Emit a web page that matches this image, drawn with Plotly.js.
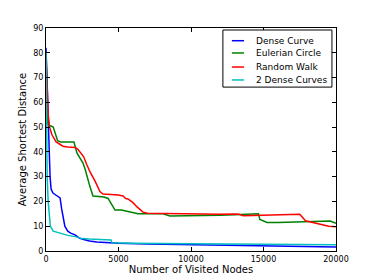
<!DOCTYPE html>
<html><head><meta charset="utf-8">
<script src="https://cdn.plot.ly/plotly-3.0.1.min.js"></script>
<style>body{margin:0;background:#fff}#c{width:374px;height:280px}</style>
</head><body><div id="c"></div>
<script>
const seriesNames = ["Dense Curve", "Eulerian Circle", "Random Walk", "2 Dense Curves"];
const seriesColors = ["#0000ff", "#008000", "#ff0000", "#00bfbf"];

const denseX = [0, 60, 120, 200, 280, 350, 480, 700, 970, 1080, 1200, 1300, 1500, 1700, 2000, 2300, 2600, 3000, 3500, 4000, 5000, 7000, 10000, 13000, 15000, 17000, 20000];
const denseY = [82, 70, 55, 40, 30, 25, 23.4, 22.5, 21.4, 17, 12, 10, 8, 7.2, 6.5, 5.2, 4.6, 4.0, 3.6, 3.4, 3.1, 2.8, 2.5, 2.2, 2.0, 1.6, 1.6];

const eulerX = [0, 50, 100, 180, 300, 500, 650, 800, 1000, 1500, 1930, 2140, 2400, 2550, 2700, 2830, 3030, 3240, 3500, 4000, 4280, 4500, 4760, 5200, 5650, 6000, 6350, 7000, 8070, 8550, 9720, 11000, 12000, 13000, 14000, 14650, 14750, 15240, 16000, 17000, 18000, 19000, 19600, 20000];
const eulerY = [80, 65, 52, 50.5, 50.5, 50, 47, 44.5, 44, 44, 44, 39.5, 37, 35.5, 33, 30, 26, 22.2, 22, 21.8, 21.2, 19, 16.5, 16.5, 16, 15.5, 15, 15, 15, 14.1, 14.1, 14.2, 14.4, 14.6, 14.9, 15, 12.7, 11.5, 11.5, 11.6, 11.8, 12.0, 12.1, 11.2];

const walkX = [0, 50, 100, 150, 250, 400, 700, 1000, 1170, 1500, 2000, 2200, 2400, 2600, 2800, 3030, 3400, 3720, 3930, 4500, 5000, 5310, 5500, 5650, 6000, 6280, 6690, 7000, 8000, 9700, 11000, 12000, 13000, 13300, 13600, 15000, 16000, 17000, 17500, 17900, 18400, 18900, 19500, 20000];
const walkY = [80, 70, 60, 55, 50, 47, 44, 43, 42.3, 42, 41.8, 41, 39.5, 38, 35, 32, 28, 24, 23, 22.8, 22.6, 22.2, 21.2, 21, 19.5, 17.8, 15.7, 15.2, 15.1, 14.9, 14.9, 14.8, 14.9, 14.8, 14.2, 14.4, 14.5, 14.6, 14.8, 12.2, 11.5, 10.6, 10.0, 9.8];

const twoX = [0, 40, 80, 150, 220, 300, 500, 1000, 1500, 2000, 2500, 3000, 3500, 4480, 4550, 6000, 10000, 15000, 20000];
const twoY = [80, 50, 30, 20, 13, 10, 8, 7, 6.3, 5.8, 5.0, 4.8, 4.6, 4.4, 3.3, 3.1, 2.9, 2.7, 2.5];

const xTicks = [0, 5000, 10000, 15000, 20000];
const yTicks = [0, 10, 20, 30, 40, 50, 60, 70, 80, 90];

const xs = [denseX, eulerX, walkX, twoX];
const ys = [denseY, eulerY, walkY, twoY];
const traces = seriesNames.map((n, i) => ({
  x: xs[i], y: ys[i], name: n, type: "scatter", mode: "lines",
  line: {color: seriesColors[i], width: 1.5}, showlegend: false
}));

// custom legend (matplotlib-like compact box)
const legBox = {x0: 0.610, x1: 0.986, y0: 0.735, y1: 0.991};
const legRows = [0.943, 0.888, 0.825, 0.767];
const shapes = [{type: "rect", xref: "paper", yref: "paper", x0: legBox.x0, x1: legBox.x1,
  y0: legBox.y0, y1: legBox.y1, line: {color: "#000", width: 1}, fillcolor: "#fff", layer: "above"}];
const annotations = [];
seriesNames.forEach((n, i) => {
  shapes.push({type: "line", xref: "paper", yref: "paper", x0: 0.641, x1: 0.683,
    y0: legRows[i], y1: legRows[i], line: {color: seriesColors[i], width: 1.5}, layer: "above"});
  annotations.push({xref: "paper", yref: "paper", x: 0.717, y: legRows[i], xanchor: "left",
    yanchor: "middle", text: n, showarrow: false,
    font: {family: "DejaVu Sans", size: 9, color: "#000"}});
});

const axisCommon = {
  showgrid: false, zeroline: false, showline: true, linecolor: "#000", linewidth: 1,
  mirror: "ticks", ticks: "inside", ticklen: 4, tickcolor: "#000",
  tickfont: {family: "DejaVu Sans", size: 8, color: "#000"}
};
const layout = {
  width: 374, height: 280,
  margin: {l: 46, r: 38, t: 28, b: 29},
  paper_bgcolor: "#fff", plot_bgcolor: "#fff",
  showlegend: false,
  shapes: shapes, annotations: annotations,
  xaxis: Object.assign({}, axisCommon, {range: [0, 20000], tickvals: xTicks,
    ticktext: xTicks.map(String),
    title: {text: "Number of Visited Nodes", font: {family: "DejaVu Sans", size: 10, color: "#000"}, standoff: 2}}),
  yaxis: Object.assign({}, axisCommon, {range: [0, 90], tickvals: yTicks,
    title: {text: "Average Shortest Distance", font: {family: "DejaVu Sans", size: 10, color: "#000"}, standoff: 4}})
};
Plotly.newPlot("c", traces, layout, {displayModeBar: false, staticPlot: true});
</script></body></html>
